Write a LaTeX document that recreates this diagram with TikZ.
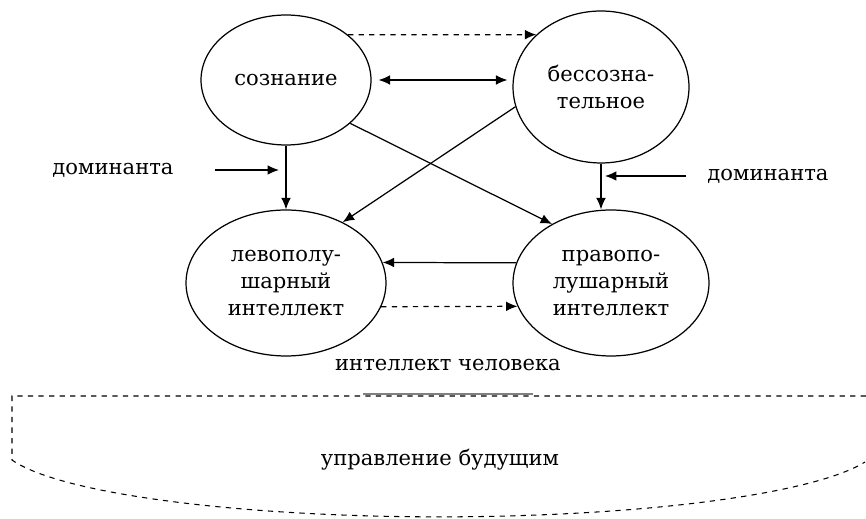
\documentclass[tikz,border=0pt]{standalone}
\usepackage{fontspec}
\setmainfont{DejaVu Serif}
\usetikzlibrary{arrows.meta,shapes.geometric}
\begin{document}
\begin{tikzpicture}[x=0.02cm,y=0.02cm,>={Latex[length=6.5pt,width=5.5pt]},line width=0.7pt,
    ell/.style={draw,ellipse,inner sep=0pt,align=center,font=\fontsize{12}{15.6}\selectfont},
    lbl/.style={font=\fontsize{12}{15.6}\selectfont}]
\useasboundingbox (0,0) rectangle (866,-519);
\node[ell,minimum width=3.4cm,minimum height=2.6cm] (soz) at (286,-80) {сознание};
\node[ell,minimum width=3.52cm,minimum height=3.04cm] (bess) at (601,-87) {бессозна-\\тельное};
\node[ell,minimum width=4cm,minimum height=2.92cm] (lev) at (286,-283) {левополу-\\шарный\\интеллект};
\node[ell,minimum width=3.92cm,minimum height=2.92cm] (prav) at (611,-283) {правопо-\\лушарный\\интеллект};
\node[lbl] (domL) at (113,-170) {доминанта};
\node[lbl] (domR) at (768,-176) {доминанта};
\node[lbl] (intel) at (448,-365) {интеллект человека};
\node[lbl] (upr) at (440,-460) {управление будущим};
\coordinate (inL) at (279,-170);
\coordinate (inR) at (605,-176);
% arrows between ellipses
\draw[->,dashed] (soz.36) -- (bess.141);
\draw[<->,shorten <=1.4mm,shorten >=1mm] (soz.east) -- (soz.east -| bess.west);
\draw[->] (soz.south) -- (lev.north);
\draw[->] (bess.south) -- (bess.south |- prav.north);
\draw[->] (soz.-34) -- (prav.135);
\draw[->] (bess.-167) -- (lev.47);
\draw[->] (prav.168) -- (lev.12);
\draw[->,dashed] (lev.-14) -- (prav.-166);
\draw[->,shorten <=7mm] (domL) -- (inL);
\draw[->,shorten <=3mm] (domR) -- (inR);
% frame
\draw[gray,line width=0.6pt] (363,-394) -- (533,-394);
\draw[dashed,line width=0.6pt] (866,-396) -- (12,-396) -- (12,-460)
    arc[start angle=193.4,end angle=345,x radius=440,y radius=74];
\end{tikzpicture}
\end{document}
